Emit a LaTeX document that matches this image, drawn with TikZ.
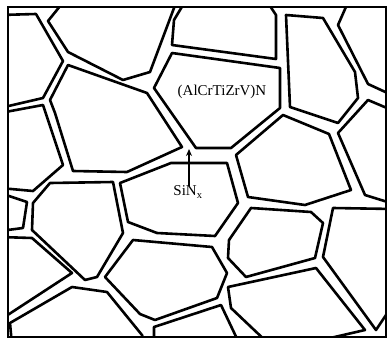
\documentclass[tikz,border=0pt]{standalone}
\usepackage{fontspec}
\setmainfont{Liberation Serif}
\usetikzlibrary{arrows.meta}
\begin{document}
\begin{tikzpicture}[x=1pt,y=-1pt,
  grain/.style={draw=black,line width=2.6pt,line join=round},
  frame/.style={draw=black,line width=1.8pt},
  lbl/.style={font=\fontsize{15}{15}\selectfont,inner sep=0pt}]
\useasboundingbox (0,0) rectangle (388,340);
\fill[white] (0,0) rectangle (388,340);
\begin{scope}
\clip (8,7) rectangle (386,337);
% A
\draw[grain] (0,15) -- (36,14) -- (63,61) -- (43,98) -- (0,108) -- cycle;
% B
\draw[grain] (65,0) -- (48,21) -- (68,52) -- (123,80) -- (150,72) -- (177,0) -- cycle;
% E
\draw[grain] (186,0) -- (174,20) -- (172,45) -- (276,59) -- (276,15) -- (266,0) -- cycle;
% F
\draw[grain] (172,53) -- (280,68) -- (280,108) -- (231,148) -- (196,148) -- (154,88) -- cycle;
% G
\draw[grain] (286,15) -- (323,18) -- (355,72) -- (358,98) -- (338,123) -- (290,107) -- cycle;
% H
\draw[grain] (349,0) -- (338,25) -- (368,84) -- (394,96) -- (394,0) -- cycle;
% I
\draw[grain] (394,111) -- (368,100) -- (338,133) -- (365,195) -- (394,204) -- cycle;
% J
\draw[grain] (283,115) -- (329,134) -- (351,190) -- (305,205) -- (248,197) -- (236,155) -- cycle;
% C
\draw[grain] (68,65) -- (147,93) -- (182,147) -- (127,172) -- (73,171) -- (55,113) -- (50,100) -- cycle;
% D
\draw[grain] (0,113) -- (43,105) -- (63,165) -- (33,191) -- (0,188) -- cycle;
% K
\draw[grain] (0,193) -- (27,202) -- (23,228) -- (0,231) -- cycle;
% L
\draw[grain] (33,203) -- (50,183) -- (113,182) -- (123,233) -- (97,277) -- (85,280) -- (32,230) -- cycle;
% M
\draw[grain] (120,183) -- (171,163) -- (227,163) -- (238,203) -- (215,236) -- (157,233) -- (128,222) -- cycle;
% O
\draw[grain] (133,240) -- (212,247) -- (227,273) -- (217,298) -- (155,320) -- (140,314) -- (105,277) -- cycle;
% N
\draw[grain] (0,237) -- (32,238) -- (72,273) -- (0,320) -- cycle;
% P
\draw[grain] (12,345) -- (10,323) -- (72,287) -- (107,292) -- (142,335) -- (145,345) -- cycle;
% Q
\draw[grain] (154,345) -- (154,327) -- (221,305) -- (240,345) -- cycle;
% R
\draw[grain] (228,287) -- (316,268) -- (365,330) -- (300,345) -- (270,345) -- (231,308) -- cycle;
% S
\draw[grain] (333,208) -- (394,209) -- (394,303) -- (376,330) -- (323,257) -- cycle;
% T
\draw[grain] (251,208) -- (311,212) -- (323,223) -- (315,258) -- (246,277) -- (228,258) -- (229,240) -- cycle;
\end{scope}
\draw[frame] (8,7) rectangle (386,337);
\node[lbl] (aln) at (222,92) {(AlCrTiZrV)N};
\node[lbl] (sin) at (188,192) {SiN\textsubscript{x}};
\coordinate (tip) at (189,149);
\draw[line width=1.4pt,-{Stealth[length=7pt,width=6pt]}] (sin.north -| tip) -- (tip);
\end{tikzpicture}
\end{document}
